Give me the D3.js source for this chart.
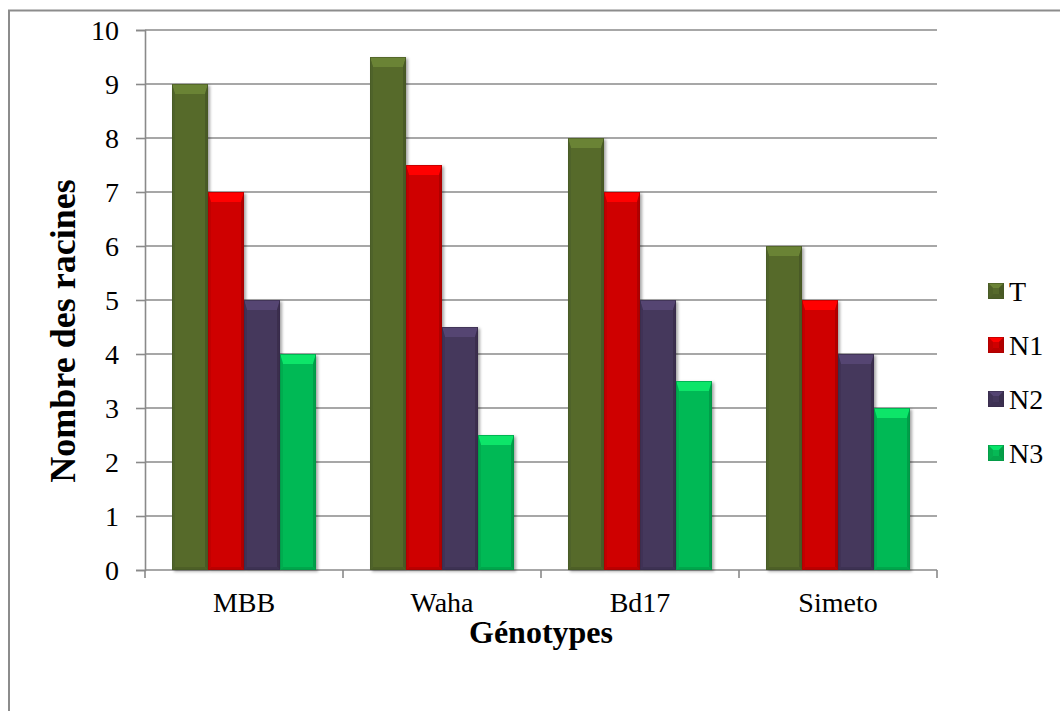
<!DOCTYPE html>
<html>
<head>
<meta charset="utf-8">
<script src="https://cdn.jsdelivr.net/npm/d3@7"></script>
<style>
  html, body { margin: 0; padding: 0; background: #fff; }
  svg { display: block; }
</style>
</head>
<body>
<svg id="chart" width="1060" height="711"></svg>
<script>
// Genotypes and treatments
const genotypes = ["MBB", "Waha", "Bd17", "Simeto"];
const treatments = ["T", "N1", "N2", "N3"];
// Number of roots per genotype, one array per treatment
const valuesT  = [9, 9.5, 8, 6];
const valuesN1 = [7, 7.5, 7, 5];
const valuesN2 = [5, 4.5, 5, 4];
const valuesN3 = [4, 2.5, 3.5, 3];
const yTicks = [0, 1, 2, 3, 4, 5, 6, 7, 8, 9, 10];
const yTitle = "Nombre des racines";
const xTitle = "Génotypes";

const seriesValues = { T: valuesT, N1: valuesN1, N2: valuesN2, N3: valuesN3 };
const colors = { T: "#566a2c", N1: "#cf0000", N2: "#44375c", N3: "#06b955" };
const FONT = "'Liberation Serif', 'Times New Roman', 'DejaVu Serif', serif";

const svg = d3.select("#chart");
const defs = svg.append("defs");

// soft shadow under each bar
const shadow = defs.append("filter").attr("id", "barShadow")
  .attr("x", "-20%").attr("y", "-10%").attr("width", "150%").attr("height", "130%");
shadow.append("feDropShadow").attr("dx", 2).attr("dy", 1.5)
  .attr("stdDeviation", 1.6).attr("flood-color", "#000").attr("flood-opacity", 0.35);

// outer frame (open on the right and bottom edges of the page)
svg.append("rect").attr("x", 9).attr("y", 10.5).attr("width", 1100).attr("height", 760)
  .attr("fill", "none").attr("stroke", "#8c8c8c").attr("stroke-width", 2);

const plot = { left: 145, right: 937, top: 30, bottom: 570 };

const x = d3.scaleBand().domain(genotypes).range([plot.left, plot.right]).paddingInner(0).paddingOuter(0);
// bars take 4 of 5.5 slots in each band (gap width 150%)
const bw = x.bandwidth() / 5.5;
const xs = d3.scaleBand().domain(treatments)
  .range([bw * 0.75, bw * 0.75 + bw * 4]).paddingInner(0).paddingOuter(0);
const y = d3.scaleLinear().domain([0, 10]).range([plot.bottom, plot.top]);

// gridlines
svg.append("g").selectAll("line").data(yTicks.filter(d => d > 0)).join("line")
  .attr("x1", plot.left).attr("x2", plot.right)
  .attr("y1", d => y(d)).attr("y2", d => y(d))
  .attr("stroke", "#8a8a8a").attr("stroke-width", 1.6);

// y axis
const yAxis = svg.append("g").attr("transform", `translate(${plot.left},0)`)
  .call(d3.axisLeft(y).tickValues(yTicks).tickSize(9).tickPadding(17).tickFormat(d3.format("d")))
  .attr("font-family", FONT).attr("font-size", 28);
yAxis.select(".domain").attr("stroke", "#8a8a8a").attr("stroke-width", 1.6);
yAxis.selectAll(".tick line").attr("stroke", "#8a8a8a").attr("stroke-width", 1.6);
yAxis.selectAll(".tick text").attr("font-family", FONT).attr("font-size", 28)
  .attr("fill", "#000").attr("dy", "0.34em");

// x axis: ticks at band boundaries, labels at band centres
const xAxis = svg.append("g").attr("transform", `translate(0,${plot.bottom})`);
xAxis.append("line").attr("x1", plot.left).attr("x2", plot.right).attr("y1", 0).attr("y2", 0)
  .attr("stroke", "#8a8a8a").attr("stroke-width", 1.6);
const bounds = genotypes.map(g => x(g)).concat([x(genotypes[genotypes.length - 1]) + x.bandwidth()]);
xAxis.selectAll("line.tk").data(bounds).join("line").attr("class", "tk")
  .attr("x1", d => d).attr("x2", d => d).attr("y1", 0).attr("y2", 8)
  .attr("stroke", "#8a8a8a").attr("stroke-width", 1.6);
xAxis.selectAll("text").data(genotypes).join("text")
  .attr("x", d => x(d) + x.bandwidth() / 2).attr("y", 42)
  .attr("text-anchor", "middle").attr("font-family", FONT).attr("font-size", 28)
  .attr("fill", "#000").text(d => d);

// bars with bevelled edges
function darker(c, k) { return d3.color(c).darker(k).formatHex(); }
function lighter(c, k) { return d3.color(c).brighter(k).formatHex(); }

function drawBevel(g, x0, y0, w, h, c, top, side) {
  g.append("rect").attr("x", x0).attr("y", y0).attr("width", w).attr("height", h).attr("fill", c);
  // top facet
  g.append("polygon").attr("points",
    `${x0},${y0} ${x0 + w},${y0} ${x0 + w - side},${y0 + top} ${x0 + side},${y0 + top}`)
    .attr("fill", lighter(c, 0.6));
  // left facet
  g.append("polygon").attr("points",
    `${x0},${y0} ${x0 + side},${y0 + top} ${x0 + side},${y0 + h - side} ${x0},${y0 + h}`)
    .attr("fill", darker(c, 0.2));
  // right facet
  g.append("polygon").attr("points",
    `${x0 + w},${y0} ${x0 + w - side},${y0 + top} ${x0 + w - side},${y0 + h - side} ${x0 + w},${y0 + h}`)
    .attr("fill", darker(c, 0.45));
  // bottom facet
  g.append("polygon").attr("points",
    `${x0},${y0 + h} ${x0 + side},${y0 + h - side} ${x0 + w - side},${y0 + h - side} ${x0 + w},${y0 + h}`)
    .attr("fill", darker(c, 0.3));
  g.append("rect").attr("x", x0 + 0.5).attr("y", y0 + 0.5).attr("width", w - 1).attr("height", h - 1)
    .attr("fill", "none").attr("stroke", darker(c, 0.6)).attr("stroke-width", 1).attr("stroke-opacity", 0.6);
}

const barsG = svg.append("g");
genotypes.forEach((g, i) => {
  treatments.forEach(t => {
    const v = seriesValues[t][i];
    const x0 = x(g) + xs(t);
    const y0 = y(v);
    const h = y(0) - y0;
    const bar = barsG.append("g").attr("filter", "url(#barShadow)");
    drawBevel(bar, x0, y0, xs.bandwidth(), h, colors[t], 10, 3);
  });
});

// axis titles
svg.append("text").attr("transform", "translate(75,331) rotate(-90)")
  .attr("text-anchor", "middle").attr("font-family", FONT).attr("font-size", 36)
  .attr("font-weight", "bold").attr("fill", "#000").text(yTitle);
svg.append("text").attr("x", (plot.left + plot.right) / 2).attr("y", 643)
  .attr("text-anchor", "middle").attr("font-family", FONT).attr("font-size", 32)
  .attr("font-weight", "bold").attr("fill", "#000").text(xTitle);

// legend
const legend = svg.append("g");
const legendY = d3.scalePoint().domain(treatments).range([291, 453]);
treatments.forEach(t => {
  const cy = legendY(t);
  const lg = legend.append("g");
  drawBevel(lg, 988, cy - 8, 16, 16, colors[t], 5, 5);
  legend.append("text").attr("x", 1009).attr("y", cy).attr("dy", "0.35em")
    .attr("font-family", FONT).attr("font-size", 28).attr("fill", "#000").text(t);
});
</script>
</body>
</html>
